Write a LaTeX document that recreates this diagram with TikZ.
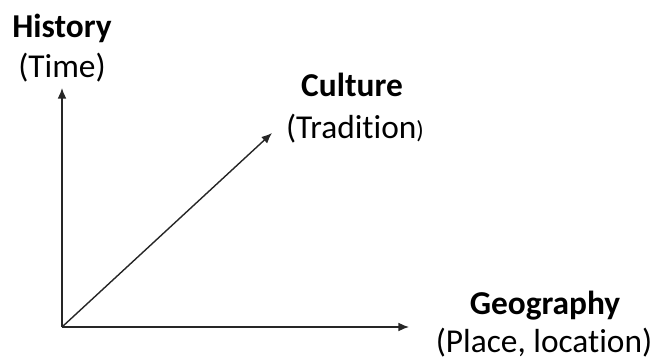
\documentclass[tikz,border=0pt]{standalone}
\usepackage{fontspec}
\setmainfont{Carlito}[Ligatures=NoCommon]
\usetikzlibrary{arrows.meta}
\begin{document}
\begin{tikzpicture}[x=0.02cm, y=-0.02cm,
  axis/.style={draw=black!85, line width=0.8pt, -{Latex[length=6pt,width=5pt]}},
  head/.style={font=\fontsize{19}{22}\selectfont\bfseries, anchor=base, inner sep=0pt},
  sub/.style={font=\fontsize{19}{22}\selectfont, anchor=base, inner sep=0pt},
  ]
  \useasboundingbox (0,0) rectangle (656,358);

  %%% axis end points %%%
  \coordinate (origin) at (62,327);
  \coordinate (timetip) at (62,88);
  \coordinate (placetip) at (409,327);
  \coordinate (culturetip) at (272,133);

  %%% axes %%%
  \draw[axis] (origin) -- (timetip);
  \draw[axis] (origin) -- (placetip);
  \draw[axis] (origin) -- (culturetip);

  %%% labels %%%
  \node[head] (history) at (62,38)  {History};
  \node[sub]  (time)    at (62,78)  {(Time)};
  \node[head] (culture) at (352,97) {Culture};
  \node[sub]  (tradition) at (355,138) {(Tradition{\fontsize{14}{16}\selectfont)}};
  \node[head] (geography) at (545,314) {Geography};
  \node[sub]  (place)   at (544,352) {(Place, location)};
\end{tikzpicture}
\end{document}
